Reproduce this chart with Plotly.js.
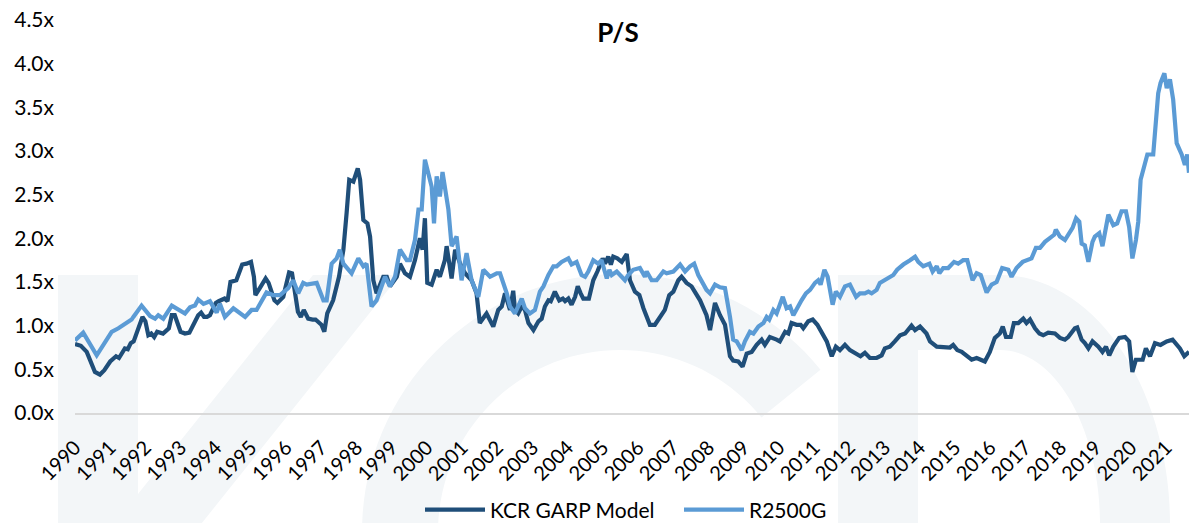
<!DOCTYPE html>
<html>
<head>
<meta charset="utf-8">
<script src="https://cdn.plot.ly/plotly-3.0.1.min.js"></script>
<style>
html,body{margin:0;padding:0;background:#fff;}
#chart{width:1189px;height:523px;}
</style>
</head>
<body>
<div id="chart"></div>
<script>
// ---------- DATA (x = months since Jan 1990) ----------
const yearLabels = ['1990','1991','1992','1993','1994','1995','1996','1997','1998','1999','2000','2001','2002','2003','2004','2005','2006','2007','2008','2009','2010','2011','2012','2013','2014','2015','2016','2017','2018','2019','2020','2021'];

const yTickVals = [0, 0.5, 1, 1.5, 2, 2.5, 3, 3.5, 4, 4.5];
const yTickText = ['0.0x','0.5x','1.0x','1.5x','2.0x','2.5x','3.0x','3.5x','4.0x','4.5x'];

const garpMonths = [0,2,4,6.8,8.5,10,12,14,15,17,18,19,20,23,24,25,26,27,28,30,32,33,34,36,37.5,39,42,43,44,45,46,48,49,51,52,53,55,56,57,58.5,60,61,61.5,63,65,66,68,69,71,73,74,76,77,78,79.5,81,82,84,85,86,88,90,91.5,92.6,93.5,94.9,96.4,97.2,98.3,99.7,100.6,101.7,102.8,105.1,106.3,107.4,109.7,110.8,112.5,114.2,115.9,117.6,118.5,119.3,120.1,121.6,123.3,124.4,126.1,126.7,128.4,129.6,131.3,133,135.2,136.9,138,140.3,142.6,144.3,145.5,146.6,148.3,149.4,150,151.1,152.3,153.4,154.6,156.3,158,159.1,160.2,161.4,162.2,163.6,165.1,166.3,167.1,168.2,169.3,170.5,171.4,172.4,173.3,175.2,176.7,178.1,179,179.9,180.7,181.8,182.7,183.5,184.9,186.4,188.1,189.2,190.9,192.4,193.8,196,197.7,199.4,201.1,202.6,204,205.7,206.8,208.5,210.2,213.1,215.3,216.5,218.2,219.9,221.6,223.3,224.4,226.1,227.6,229,230.7,232.4,234.1,235.2,236.9,239.2,240.3,242.1,243.2,244.3,246,247.4,248.3,250,251.5,253.1,254.9,256.3,258,259.4,260.8,262.5,264.2,265.9,267.8,269.3,271,273.3,275,276.1,277.8,279.5,281.3,283,285.2,286.4,288.1,290.3,291.5,293.8,295.5,298.3,299.4,300.8,302.3,304,305.7,307.4,310.2,311.9,313.6,315.3,316.3,317.4,319,320.1,321.6,323.3,324.4,325.6,327.3,328.8,330.1,331.8,333,334.1,335.8,337.5,338.6,340.9,341.7,343.2,344.3,345.5,346.9,348.9,350.3,351.5,352.6,354,356,358,359.4,360.5,361.7,363.1,364,365.1,366.5,368.2,370.1,372.2,374.2,376.7,378.2,379.8];
const garpPS = [0.79,0.77,0.70,0.47,0.44,0.49,0.59,0.65,0.63,0.74,0.73,0.80,0.82,1.10,1.05,0.89,0.91,0.87,0.93,0.91,0.97,1.12,1.12,0.93,0.91,0.92,1.12,1.15,1.10,1.10,1.12,1.26,1.28,1.31,1.28,1.50,1.52,1.62,1.70,1.71,1.73,1.56,1.35,1.43,1.54,1.49,1.29,1.26,1.33,1.61,1.60,1.16,1.10,1.18,1.08,1.07,1.07,1.01,0.93,1.14,1.29,1.56,1.87,2.29,2.67,2.65,2.80,2.67,2.21,2.17,2.02,1.52,1.37,1.56,1.56,1.45,1.56,1.71,1.60,1.56,1.75,2.00,1.87,2.23,1.49,1.47,1.64,1.56,1.75,1.91,1.54,1.87,1.71,1.60,1.52,1.37,1.03,1.14,0.99,1.18,1.22,1.37,1.18,1.40,1.18,1.14,1.22,1.18,1.03,0.95,1.05,1.08,1.22,1.29,1.28,1.39,1.29,1.31,1.28,1.31,1.24,1.33,1.45,1.37,1.31,1.31,1.52,1.62,1.70,1.77,1.71,1.79,1.70,1.79,1.77,1.73,1.82,1.52,1.39,1.35,1.20,1.01,1.01,1.10,1.18,1.35,1.39,1.52,1.56,1.49,1.45,1.29,1.12,0.95,1.26,1.12,1.01,0.65,0.60,0.59,0.53,0.68,0.70,0.78,0.84,0.78,0.87,0.84,0.82,0.93,0.91,1.03,1.01,1.01,0.97,1.05,1.07,1.01,0.89,0.82,0.65,0.76,0.72,0.78,0.72,0.69,0.65,0.69,0.63,0.63,0.66,0.74,0.76,0.82,0.89,0.91,1.00,0.95,0.99,0.91,0.82,0.76,0.76,0.75,0.78,0.72,0.70,0.66,0.61,0.63,0.59,0.70,0.86,0.91,0.99,0.87,0.87,1.03,1.03,1.08,1.03,1.07,0.97,0.91,0.89,0.92,0.91,0.91,0.86,0.84,0.87,0.97,0.98,0.84,0.80,0.74,0.82,0.76,0.70,0.76,0.66,0.76,0.86,0.87,0.82,0.47,0.61,0.61,0.61,0.74,0.65,0.80,0.78,0.82,0.84,0.74,0.65,0.70];

const r2500gMonths = [0,2.8,7.4,12.5,14.8,19.3,19.9,22.7,25.6,27.3,28.4,30.1,33,35.8,37.5,39.2,40.9,42,43.8,46,48.3,49.4,51.1,54,58,60.2,61.9,65.3,67.6,69.9,72.7,74.4,76.1,77.8,79,82.4,84.7,85.8,87.5,89.2,90.3,91.5,94.3,96.6,98.3,99.4,101.1,102.8,104.5,105.7,107.4,109.1,110.8,113.1,114.2,115.9,117.1,118.2,119.3,121.6,122.4,123.3,124.4,125.3,127.3,128.4,130.1,131.8,133.5,135.2,137.5,139.2,141.5,143.8,144.9,147.2,148.3,150,152.3,153.4,155.1,156.8,158.5,159.7,161.4,163.1,164.2,165.9,168.2,169.3,171,172.7,173.9,175,176.7,178.4,179.5,181.3,182.2,183,184.7,187.5,188.6,190.3,192.6,194.3,194.9,196.6,198.3,200.6,201.7,204,206.3,208,209.7,211.1,212.5,215.3,216.5,218.2,219.9,221.6,223.3,224.4,225.6,227.3,228.4,230.1,231.3,233,234.7,235.8,236.7,238.1,239.2,241.3,242.6,243.8,244.9,246.6,247.7,249.2,250.6,252.3,253.4,254.2,255.5,256.6,258.3,259.4,260.8,262.5,264.2,266.3,267.6,269.3,270.5,271.6,273.3,274.4,275.8,277.6,279,280.3,282.4,284.7,286.4,287.5,289.2,291.3,292.4,293.8,294.7,296,297.7,299.7,301.1,302.8,304.2,306,307.4,308.8,310.8,312.5,314.2,316.1,318.2,319.3,321,323.1,324.7,326.1,327.6,329,330.7,332.4,333.8,334.4,335.8,337.5,339.2,340.1,341.3,342.4,343.2,344.3,345.5,346.9,347.7,349.2,350.3,352.3,354,355.3,356.8,358.3,359.4,360.5,361.7,362.5,363.3,364.4,365.6,367.6,369.3,370.1,371.4,372.2,373.3,374.4,375.6,377.3,378.4,379.2,379.8];
const r2500gPS = [0.83,0.92,0.66,0.93,0.97,1.07,1.10,1.23,1.11,1.08,1.12,1.08,1.23,1.18,1.14,1.21,1.23,1.30,1.25,1.28,1.15,1.25,1.10,1.20,1.10,1.18,1.18,1.38,1.35,1.35,1.43,1.52,1.37,1.49,1.47,1.49,1.29,1.29,1.71,1.77,1.87,1.71,1.60,1.77,1.68,1.71,1.22,1.29,1.45,1.56,1.45,1.56,1.87,1.75,1.75,1.98,2.33,2.33,2.90,2.59,2.17,2.71,2.48,2.76,2.33,1.91,2.02,1.52,1.83,1.52,1.33,1.64,1.56,1.60,1.60,1.37,1.22,1.14,1.31,1.20,1.14,1.18,1.39,1.45,1.58,1.68,1.68,1.73,1.77,1.70,1.73,1.58,1.56,1.62,1.75,1.71,1.75,1.54,1.64,1.58,1.62,1.52,1.58,1.64,1.66,1.56,1.62,1.52,1.52,1.62,1.60,1.62,1.70,1.62,1.68,1.71,1.58,1.41,1.37,1.47,1.44,1.43,1.10,0.84,0.82,0.72,0.82,0.93,0.91,0.99,1.03,1.10,1.07,1.18,1.14,1.33,1.20,1.22,1.12,1.24,1.29,1.37,1.41,1.49,1.52,1.47,1.64,1.56,1.24,1.39,1.33,1.45,1.47,1.33,1.37,1.37,1.39,1.37,1.41,1.49,1.52,1.56,1.58,1.64,1.70,1.75,1.79,1.73,1.68,1.71,1.62,1.68,1.60,1.66,1.66,1.73,1.71,1.75,1.75,1.52,1.60,1.58,1.38,1.47,1.50,1.66,1.64,1.56,1.66,1.73,1.75,1.77,1.89,1.89,1.96,2.00,2.04,2.10,2.02,1.98,2.06,2.12,2.23,2.19,1.94,1.92,1.73,1.96,2.02,2.06,1.91,2.27,2.15,2.17,2.31,2.31,2.13,1.77,1.98,2.19,2.67,2.82,2.96,2.96,3.66,3.78,3.89,3.72,3.82,3.59,3.09,2.96,2.84,2.96,2.75];

// ---------- LAYOUT GEOMETRY ----------
const W = 1189, H = 523;
const M = {l: 75, r: 0, t: 20, b: 110};
const PW = W - M.l - M.r, PH = H - M.t - M.b;
const yearTicks = yearLabels.map((y, i) => i * 12);

// watermark helpers (pixel -> paper)
function pp(x, y) { return ((x - M.l) / PW).toFixed(5) + ',' + ((H - M.b - y) / PH).toFixed(5); }
function poly(pts) { return 'M' + pts.map(p => pp(p[0], p[1])).join('L') + 'Z'; }
function arcPts(cx, cy, rx, ry, a0, a1, n) {
  const out = [];
  for (let i = 0; i <= n; i++) {
    const a = (a0 + (a1 - a0) * i / n) * Math.PI / 180;
    out.push([cx + rx * Math.cos(a), cy - ry * Math.sin(a)]);
  }
  return out;
}
const wm = '#F3F6F8';
function wmShape(path, color) {
  return {type: 'path', xref: 'paper', yref: 'paper', layer: 'below', path: path, fillcolor: color || wm, line: {width: 0}};
}
const shapes = [];
// K
shapes.push(wmShape(poly([[58, 275], [138, 275], [138, 560], [58, 560]])));
shapes.push(wmShape(poly([[138, 494], [313, 275], [400, 275], [138, 603]])));
// C
const cOuter = arcPts(620, 532, 258, 258, 39, 200, 60);
const cInner = arcPts(620, 532, 182, 182, 200, 39, 60);
shapes.push(wmShape(poly(cOuter.concat(cInner))));
// D
shapes.push(wmShape(poly([[838, 600], [838, 275], [1000, 275]].concat(arcPts(1000, 525, 170, 250, 90, -20, 40)).concat([[1160, 600]]))));
shapes.push(wmShape(poly([[918, 600], [918, 350], [1000, 350]].concat(arcPts(1000, 525, 100, 175, 90, -20, 40)).concat([[1094, 600]])), '#FFFFFF'));

const FONT = 'Lato, "Open Sans", sans-serif';

const traces = [
  {x: garpMonths, y: garpPS, name: 'KCR GARP Model', type: 'scatter', mode: 'lines',
   line: {color: '#1F4E79', width: 4.2}},
  {x: r2500gMonths, y: r2500gPS, name: 'R2500G', type: 'scatter', mode: 'lines',
   line: {color: '#5B9BD5', width: 4.2}}
];

const layout = {
  width: W, height: H,
  margin: M,
  paper_bgcolor: '#FFFFFF',
  plot_bgcolor: 'rgba(0,0,0,0)',
  font: {family: FONT, color: '#000000'},
  title: {text: '<b>P/S</b>', font: {family: FONT, size: 26, color: '#000000'},
          x: 618 / W, xref: 'container', xanchor: 'center',
          y: 1 - 33 / H, yref: 'container', yanchor: 'middle'},
  xaxis: {range: [0, 379.8], tickmode: 'array', tickvals: yearTicks, ticktext: yearLabels,
          tickangle: -45, tickfont: {family: FONT, size: 20, color: '#000000'},
          showgrid: false, zeroline: false, showline: true, linecolor: '#D9D9D9', linewidth: 2,
          ticks: '', ticklabelstandoff: 13, fixedrange: true},
  yaxis: {range: [0, 4.5], tickmode: 'array', tickvals: yTickVals, ticktext: yTickText,
          tickfont: {family: FONT, size: 21, color: '#000000'},
          showgrid: false, zeroline: false, showline: false, ticks: '', ticklabelstandoff: 20, fixedrange: true},
  showlegend: true,
  legend: {orientation: 'h', xref: 'container', yref: 'container', x: 679 / W, xanchor: 'center',
           y: 13 / H, yanchor: 'middle', font: {family: FONT, size: 21, color: '#000000'},
           itemwidth: 60, entrywidth: 184, bgcolor: 'rgba(0,0,0,0)'},
  shapes: shapes
};

Plotly.newPlot('chart', traces, layout, {displayModeBar: false, staticPlot: true});
</script>
</body>
</html>
